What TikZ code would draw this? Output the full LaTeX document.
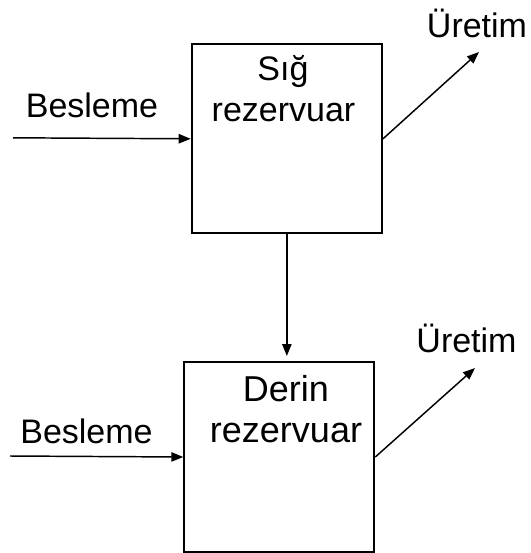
\documentclass[tikz,border=0pt]{standalone}
\usepackage{fontspec}
\setmainfont{Liberation Sans}
\usetikzlibrary{arrows.meta}
\begin{document}
\begin{tikzpicture}[x=0.75pt,y=-0.75pt,
  tank/.style={draw=black,line width=1.5pt,inner sep=0pt,anchor=north west},
  flow/.style={draw=black,line width=1.1pt,-{Triangle[length=9pt,width=7pt]}},
  lbl/.style={anchor=base,inner sep=0pt,font=\fontsize{25.5}{30}\selectfont},
  lblbig/.style={anchor=base,inner sep=0pt,font=\fontsize{27}{32}\selectfont}]
\useasboundingbox (0,0) rectangle (531,553);

% reservoirs
\node[tank,minimum width=190.3*0.75pt,minimum height=189*0.75pt] (shallow) at (190.7,43.3) {};
\node[tank,minimum width=190*0.75pt,minimum height=190*0.75pt] (deep) at (183.3,361) {};

% reservoir names
\node[lbl] (sname1) at (283,80) {Sığ};
\node[lbl] (sname2) at (283.5,121) {rezervuar};
\node[lblbig] (dname1) at (286,401) {Derin};
\node[lblbig] (dname2) at (286,442) {rezervuar};

% feed inlets
\coordinate (feedA) at (13,137.8);
\coordinate (feedB) at (10,456);
\node[lbl] (feedAtext) at (92,117) {Besleme};
\node[lbl] (feedBtext) at (86.5,443) {Besleme};
\draw[flow] (feedA) -- (shallow.west);
\draw[flow] (feedB) -- (deep.west);

% production outlets
\coordinate (prodA) at (479,52);
\coordinate (prodB) at (475,368);
\node[lbl] (prodAtext) at (477,37) {Üretim};
\node[lbl] (prodBtext) at (466.5,352) {Üretim};
\draw[flow] (shallow.east) -- (prodA);
\draw[flow] (deep.east) -- (prodB);

% transfer from shallow to deep reservoir
\draw[flow,shorten >=3.75pt] (shallow.south) -- (shallow.south |- deep.north);
\end{tikzpicture}
\end{document}
